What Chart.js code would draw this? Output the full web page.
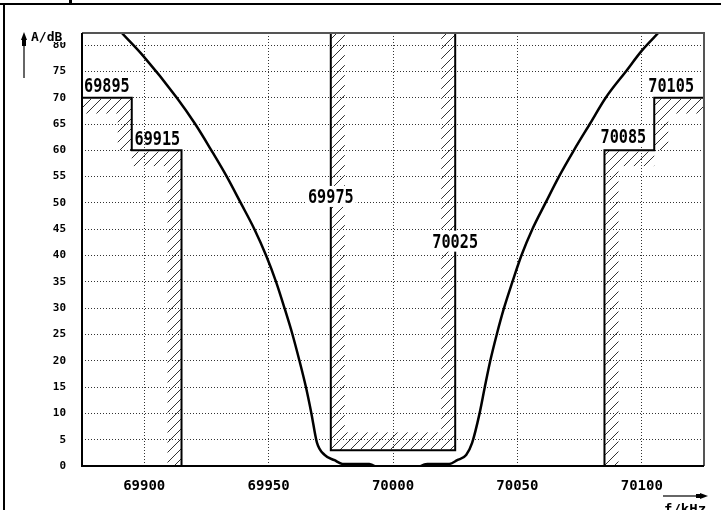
<!DOCTYPE html>
<html>
<head>
<meta charset="utf-8">
<script src="https://cdn.jsdelivr.net/npm/chart.js@4/dist/chart.umd.min.js"></script>
<style>
html,body{margin:0;padding:0;background:#fff;}
#c{display:block;}
</style>
</head>
<body>
<canvas id="c" width="721" height="510"></canvas>
<script>
// ---- data ----
const xTicks = [69900, 69950, 70000, 70050, 70100];
const yTicks = [0,5,10,15,20,25,30,35,40,45,50,55,60,65,70,75,80];

// filter attenuation curve (f in kHz, A in dB)
const freqKHz = [69891.0, 69899.5, 69913.1, 69920.5, 69927.0, 69933.2, 69938.8, 69944.3, 69949.0, 69953.0,
  69956.4, 69959.6, 69962.4, 69965.0, 69967.2, 69969.4, 69972.5, 69976.5, 69979.7, 69990.5,
  69995.0, 70008.0, 70013.8, 70022.6, 70025.8, 70029.4, 70031.8, 70034.8, 70036.9, 70039.1,
  70041.7, 70044.6, 70048.0, 70051.6, 70056.0, 70061.3, 70066.7, 70072.7, 70079.1, 70085.5,
  70093.6, 70100.1, 70106.8];
const attenDb = [82.3, 78.0, 70.0, 65.0, 60.0, 55.0, 50.0, 45.0, 40.0, 35.0,
  30.0, 25.0, 20.0, 15.0, 10.0, 4.5, 2.1, 1.1, 0.4, 0.4,
  -0.5, -0.5, 0.4, 0.4, 1.1, 2.1, 4.4, 10.0, 15.0, 20.0,
  25.0, 30.0, 35.0, 40.0, 45.0, 50.0, 55.0, 60.0, 65.0, 70.0,
  75.0, 79.0, 82.4];

// tolerance masks
const maskLowF  = [69875, 69895, 69895, 69915, 69915];
const maskLowA  = [70, 70, 60, 60, 0];
const maskHighF = [70085, 70085, 70105, 70105, 70125];
const maskHighA = [0, 60, 60, 70, 70];
const passF = [69975, 69975, 70025, 70025];
const passA = [82.3, 3, 3, 82.3];

const maskLabels = ['69895', '69915', '69975', '70025', '70085', '70105'];

const X_MIN = 69875, X_MAX = 70125, Y_MIN = 0, Y_MAX = 82.3;

const toXY = (fs, as) => fs.map((f, i) => ({x: f, y: as[i]}));

// ---- plugin: hatching, frame, labels, axis titles ----
const hatchSides = [
  {f: maskLowF,  a: maskLowA,  sides: ['below', 'left', 'below', 'left'], w: [15, 14, 15, 14]},
  {f: maskHighF, a: maskHighA, sides: ['right', 'below', 'right', 'below'], w: [14, 15, 14, 15]},
  {f: passF,     a: passA,     sides: ['right', 'above', 'left'], w: [14, 17, 14]}
];
const labelPlaces = [
  {f: 69885.0, a: 71.1, box: false},
  {f: 69905.3, a: 61.0, box: false},
  {f: 69975.0, a: 50.0, box: true},
  {f: 70025.0, a: 41.5, box: true},
  {f: 70092.6, a: 61.4, box: true},
  {f: 70111.8, a: 71.1, box: false}
];

function hatchRect(ctx, rx, ry, rw, rh) {
  ctx.save();
  ctx.beginPath();
  ctx.rect(rx, ry, rw, rh);
  ctx.clip();
  ctx.beginPath();
  const s = 10;
  const c0 = Math.floor((rx + ry) / s) * s;
  for (let c = c0; c <= rx + rw + ry + rh + s; c += s) {
    ctx.moveTo(c - (ry + rh), ry + rh);
    ctx.lineTo(c - ry, ry);
  }
  ctx.stroke();
  ctx.restore();
}

const decoPlugin = {
  id: 'deco',
  beforeDatasetsDraw(chart) {
    const {ctx, chartArea: ca, scales: {x, y}} = chart;
    ctx.save();
    ctx.beginPath();
    ctx.rect(ca.left, ca.top, ca.right - ca.left, ca.bottom - ca.top);
    ctx.clip();
    ctx.strokeStyle = '#333';
    ctx.lineWidth = 1;
    hatchSides.forEach(m => {
      for (let i = 0; i < m.sides.length; i++) {
        const w = m.w[i];
        const x1 = x.getPixelForValue(m.f[i]), x2 = x.getPixelForValue(m.f[i + 1]);
        const y1 = y.getPixelForValue(m.a[i]), y2 = y.getPixelForValue(m.a[i + 1]);
        const lx = Math.min(x1, x2), hx = Math.max(x1, x2);
        const ly = Math.min(y1, y2), hy = Math.max(y1, y2);
        const side = m.sides[i];
        if (side === 'below') hatchRect(ctx, lx, ly + 1, hx - lx, w);
        else if (side === 'above') hatchRect(ctx, lx, ly - w - 1, hx - lx, w);
        else if (side === 'left') hatchRect(ctx, lx - w, ly, w, hy - ly);
        else if (side === 'right') hatchRect(ctx, lx, ly, w, hy - ly);
      }
    });
    ctx.restore();
  },
  afterDatasetsDraw(chart) {
    const {ctx, chartArea: ca, scales: {x, y}} = chart;
    ctx.save();
    // plot frame
    ctx.lineWidth = 2;
    ctx.strokeStyle = '#555';
    ctx.beginPath();
    ctx.moveTo(ca.left, ca.top); ctx.lineTo(ca.right, ca.top); ctx.lineTo(ca.right, ca.bottom);
    ctx.stroke();
    ctx.strokeStyle = '#000';
    ctx.beginPath();
    ctx.moveTo(ca.left, ca.top); ctx.lineTo(ca.left, ca.bottom); ctx.lineTo(ca.right, ca.bottom);
    ctx.stroke();

    // mask labels
    ctx.font = 'bold 20px "DejaVu Sans Mono"';
    ctx.textBaseline = 'alphabetic';
    ctx.textAlign = 'center';
    const sx = 0.76;
    labelPlaces.forEach((p, i) => {
      const t = maskLabels[i];
      const px = x.getPixelForValue(p.f), py = y.getPixelForValue(p.a);
      const tw = ctx.measureText(t).width * sx;
      if (p.box) {
        ctx.fillStyle = '#fff';
        ctx.fillRect(px - tw / 2 - 2, py - 17, tw + 4, 21);
      }
      ctx.save();
      ctx.translate(px, py);
      ctx.scale(sx, 1);
      ctx.fillStyle = '#000';
      ctx.fillText(t, 0, 0);
      ctx.restore();
    });

    // outer frame pieces
    ctx.fillStyle = '#000';
    ctx.fillRect(0, 3, 721, 2);
    ctx.fillRect(3, 3, 2, 507);
    ctx.fillRect(69, 0, 3, 4);

    // y axis title with arrow
    ctx.fillStyle = '#fff';
    ctx.fillRect(30, 30, 40, 12);
    ctx.fillStyle = '#000';
    ctx.font = 'bold 13px "DejaVu Sans Mono"';
    ctx.textAlign = 'left';
    ctx.fillText('A/dB', 31, 41);
    ctx.strokeStyle = '#333';
    ctx.lineWidth = 1.5;
    ctx.beginPath(); ctx.moveTo(24, 36); ctx.lineTo(24, 78); ctx.stroke();
    ctx.beginPath(); ctx.moveTo(24, 32); ctx.lineTo(21, 40); ctx.lineTo(27, 40); ctx.closePath(); ctx.fill();
    ctx.fillRect(22, 40, 4, 6);

    // x axis title with arrow
    ctx.beginPath(); ctx.moveTo(663, 496); ctx.lineTo(704, 496); ctx.stroke();
    ctx.beginPath(); ctx.moveTo(708, 496); ctx.lineTo(700, 493); ctx.lineTo(700, 499); ctx.closePath(); ctx.fill();
    ctx.fillRect(696, 494, 4, 4);
    ctx.font = 'bold 14px "DejaVu Sans Mono"';
    ctx.fillText('f/kHz', 664, 514);
    ctx.restore();
  }
};

const gridCommon = {color: '#333', lineWidth: 1, drawTicks: false};

new Chart(document.getElementById('c'), {
  type: 'line',
  data: {
    datasets: [
      {data: toXY(freqKHz, attenDb), borderColor: '#000', borderWidth: 2.5, pointRadius: 0,
       cubicInterpolationMode: 'monotone', fill: false},
      {data: toXY(maskLowF, maskLowA), borderColor: '#000', borderWidth: 2, pointRadius: 0, tension: 0, fill: false},
      {data: toXY(maskHighF, maskHighA), borderColor: '#000', borderWidth: 2, pointRadius: 0, tension: 0, fill: false},
      {data: toXY(passF, passA), borderColor: '#000', borderWidth: 2, pointRadius: 0, tension: 0, fill: false}
    ]
  },
  options: {
    responsive: false,
    animation: false,
    devicePixelRatio: 1,
    layout: {padding: {top: 33, right: 17, left: 0, bottom: 0}},
    plugins: {legend: {display: false}, tooltip: {enabled: false}},
    scales: {
      x: {
        type: 'linear', min: X_MIN, max: X_MAX,
        afterBuildTicks: s => { s.ticks = xTicks.map(v => ({value: v})); },
        afterFit: s => { s.height = 44; },
        grid: gridCommon,
        border: {display: false, dash: [1, 2]},
        ticks: {color: '#000', padding: 12, maxRotation: 0, autoSkip: false,
          font: {family: '"DejaVu Sans Mono"', weight: 'bold', size: 14},
          callback: v => String(v)}
      },
      y: {
        type: 'linear', min: Y_MIN, max: Y_MAX,
        afterBuildTicks: s => { s.ticks = yTicks.map(v => ({value: v})); },
        afterFit: s => { s.width = 82; },
        grid: gridCommon,
        border: {display: false, dash: [1, 2]},
        ticks: {color: '#000', padding: 16, autoSkip: false,
          font: {family: '"DejaVu Sans Mono"', weight: 'bold', size: 11},
          callback: v => String(v)}
      }
    }
  },
  plugins: [decoPlugin]
});
</script>
</body>
</html>
